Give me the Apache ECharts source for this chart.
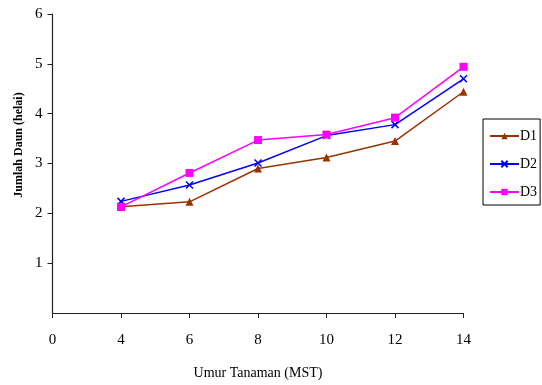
<!DOCTYPE html>
<html>
<head>
<meta charset="utf-8">
<script src="https://cdn.jsdelivr.net/npm/echarts@6/dist/echarts.min.js"></script>
<style>html,body{margin:0;padding:0;background:#fff}#c{width:542px;height:385px}</style>
</head>
<body>
<div id="c"></div>
<script>
const categories = ['0', '4', '6', '8', '10', '12', '14'];
const d1 = ['-', 2.13, 2.23, 2.90, 3.12, 3.45, 4.44];
const d2 = ['-', 2.24, 2.57, 3.01, 3.56, 3.78, 4.70];
const d3 = ['-', 2.13, 2.81, 3.47, 3.58, 3.92, 4.94];
const yTicks = [0, 1, 2, 3, 4, 5, 6];
const seriesNames = ['D1', 'D2', 'D3'];

const font = 'Liberation Serif';
const chart = echarts.init(document.getElementById('c'), null, {renderer: 'canvas'});
const mk = (name, data, color, symbol, size) => ({
  name, type: 'line', data,
  symbol, symbolSize: size,
  showSymbol: true,
  lineStyle: {color, width: 1.5},
  itemStyle: symbol.indexOf('path://') === 0
    ? {color: color, borderColor: color, borderWidth: 1.5}
    : {color: color, borderWidth: 0},
  emphasis: {disabled: true},
  animation: false
});
chart.setOption({
  animation: false,
  grid: {left: 52.5, right: 78.5, top: 14, bottom: 70},
  xAxis: {
    type: 'category', data: categories, boundaryGap: false,
    axisLine: {lineStyle: {color: '#222', width: 1.2}},
    axisTick: {show: true, length: 5, lineStyle: {color: '#222'}},
    axisLabel: {color: '#000', fontFamily: font, fontSize: 15, margin: 20},
    name: 'Umur Tanaman (MST)', nameLocation: 'middle', nameGap: 53,
    nameTextStyle: {color: '#000', fontFamily: font, fontSize: 14}
  },
  yAxis: {
    type: 'value', min: yTicks[0], max: yTicks[yTicks.length - 1], interval: 1,
    splitLine: {show: false},
    axisLine: {show: true, lineStyle: {color: '#222', width: 1.2}},
    axisTick: {show: true, length: 5, lineStyle: {color: '#222'}},
    axisLabel: {color: '#000', fontFamily: font, fontSize: 15, margin: 10, showMinLabel: false,
      formatter: v => v === 0 ? '' : String(v)}
  },
  legend: {
    orient: 'vertical', left: 483, top: 119,
    data: seriesNames,
    borderColor: '#000', borderWidth: 1,
    padding: [10, 3, 6, 6],
    itemWidth: 29, itemHeight: 8, itemGap: 14,
    textStyle: {color: '#000', fontFamily: font, fontSize: 14, padding: [0, 0, 0, -4]}
  },
  graphic: [{
    type: 'text', x: 19, y: 145, rotation: Math.PI / 2,
    style: {text: 'Jumlah Daun (helai)', fill: '#000', font: 'bold 12px "Liberation Serif"',
      textAlign: 'center', textVerticalAlign: 'middle'}
  }],
  series: [
    mk(seriesNames[0], d1, '#993300', 'triangle', 8),
    mk(seriesNames[1], d2, '#0000FF', 'path://M0,0L10,10M10,0L0,10', 7),
    mk(seriesNames[2], d3, '#FF00FF', 'rect', 8)
  ]
});
</script>
</body>
</html>
